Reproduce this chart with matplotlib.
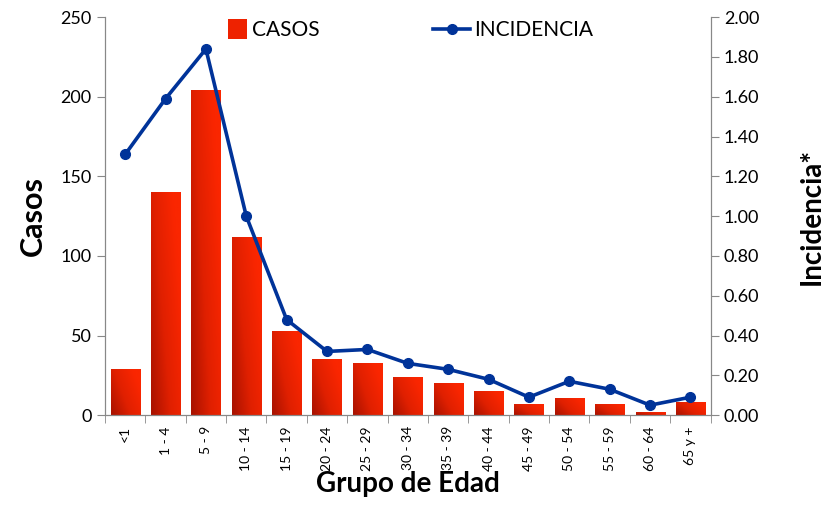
import numpy as np
import matplotlib.pyplot as plt
from matplotlib.colors import LinearSegmentedColormap
from matplotlib.patches import Rectangle
from matplotlib.legend_handler import HandlerPatch

grupos = ["<1", "1 - 4", "5 - 9", "10 - 14", "15 - 19", "20 - 24", "25 - 29", "30 - 34",
          "35 - 39", "40 - 44", "45 - 49", "50 - 54", "55 - 59", "60 - 64", "65 y +"]
casos = [29, 140, 204, 112, 53, 35, 33, 24, 20, 15, 7, 11, 7, 2, 8]
incidencia = [1.31, 1.59, 1.84, 1.00, 0.48, 0.32, 0.33, 0.26, 0.23, 0.18, 0.09, 0.17, 0.13, 0.05, 0.09]

plt.rcParams['font.family'] = ['Lato', 'DejaVu Sans']

fig = plt.figure(figsize=(8.37, 5.05), dpi=100)
ax = fig.add_axes([0.1254, 0.178, 0.7236, 0.788])
ax2 = ax.twinx()

x = np.arange(len(grupos))
bars = ax.bar(x, casos, width=0.72, color='#EE2200', label='CASOS', zorder=2)

# red gradient inside each bar (dark bottom-left -> bright top-right)
cmap = LinearSegmentedColormap.from_list('rojo', ['#A81200', '#E02000', '#FA2600'])
gx, gy = np.meshgrid(np.linspace(0, 1, 40), np.linspace(0, 1, 40))
grad = np.clip(0.75 * gx + 0.45 * gy, 0, 1)
for b in bars:
    bx, by = b.get_x(), b.get_y()
    w, h = b.get_width(), b.get_height()
    im = ax.imshow(grad, cmap=cmap, extent=(bx, bx + w, by, by + h), origin='lower',
                   aspect='auto', zorder=2.1, vmin=0, vmax=1)
    im.set_clip_path(b)

linea, = ax2.plot(x, incidencia, color='#003399', lw=2.6, marker='o', ms=7, label='INCIDENCIA', zorder=3)

ax.set_xlim(-0.5, len(grupos) - 0.5)
ax.set_ylim(0, 250)
ax2.set_ylim(0, 2.0)
ax.set_yticks(range(0, 251, 50))
ax2.set_yticks(np.arange(0, 2.01, 0.2))
ax2.set_yticklabels([f"{v:.2f}" for v in np.arange(0, 2.01, 0.2)])

ax.set_xticks(x)
ax.set_xticklabels(grupos, rotation=90, fontsize=10)
ax.set_xticks(np.arange(-0.5, len(grupos), 1), minor=True)
ax.tick_params(axis='x', which='major', length=0, pad=8)
ax.tick_params(axis='x', which='minor', length=6, color='#888888')
ax.tick_params(axis='y', labelsize=13, length=6, color='#888888')
ax2.tick_params(axis='y', labelsize=13, length=6, color='#888888')

for a in (ax, ax2):
    a.spines['top'].set_visible(False)
    for s in ('left', 'right', 'bottom'):
        a.spines[s].set_color('#888888')

ax.set_ylabel('Casos', fontsize=22, fontweight='bold', labelpad=10)
ax2.set_ylabel('Incidencia*', fontsize=20, fontweight='bold', rotation=90)
ax2.yaxis.set_label_coords(1.145, 0.5)
ax.set_xlabel('Grupo de Edad', fontsize=20, fontweight='bold', labelpad=0)


def square(legend, orig_handle, xdescent, ydescent, width, height, fontsize):
    s = height * 1.35
    return Rectangle((width - s - xdescent, -ydescent - (s - height) / 2), s, s)


ax2.legend([bars.patches[0], linea], ['CASOS', 'INCIDENCIA'], loc='upper center', ncol=2,
           frameon=False, fontsize=15, bbox_to_anchor=(0.49, 1.04), columnspacing=5.45,
           handlelength=1.8, handletextpad=0.2,
           handler_map={Rectangle: HandlerPatch(patch_func=square)})

fig.savefig('out.png', dpi=100)
